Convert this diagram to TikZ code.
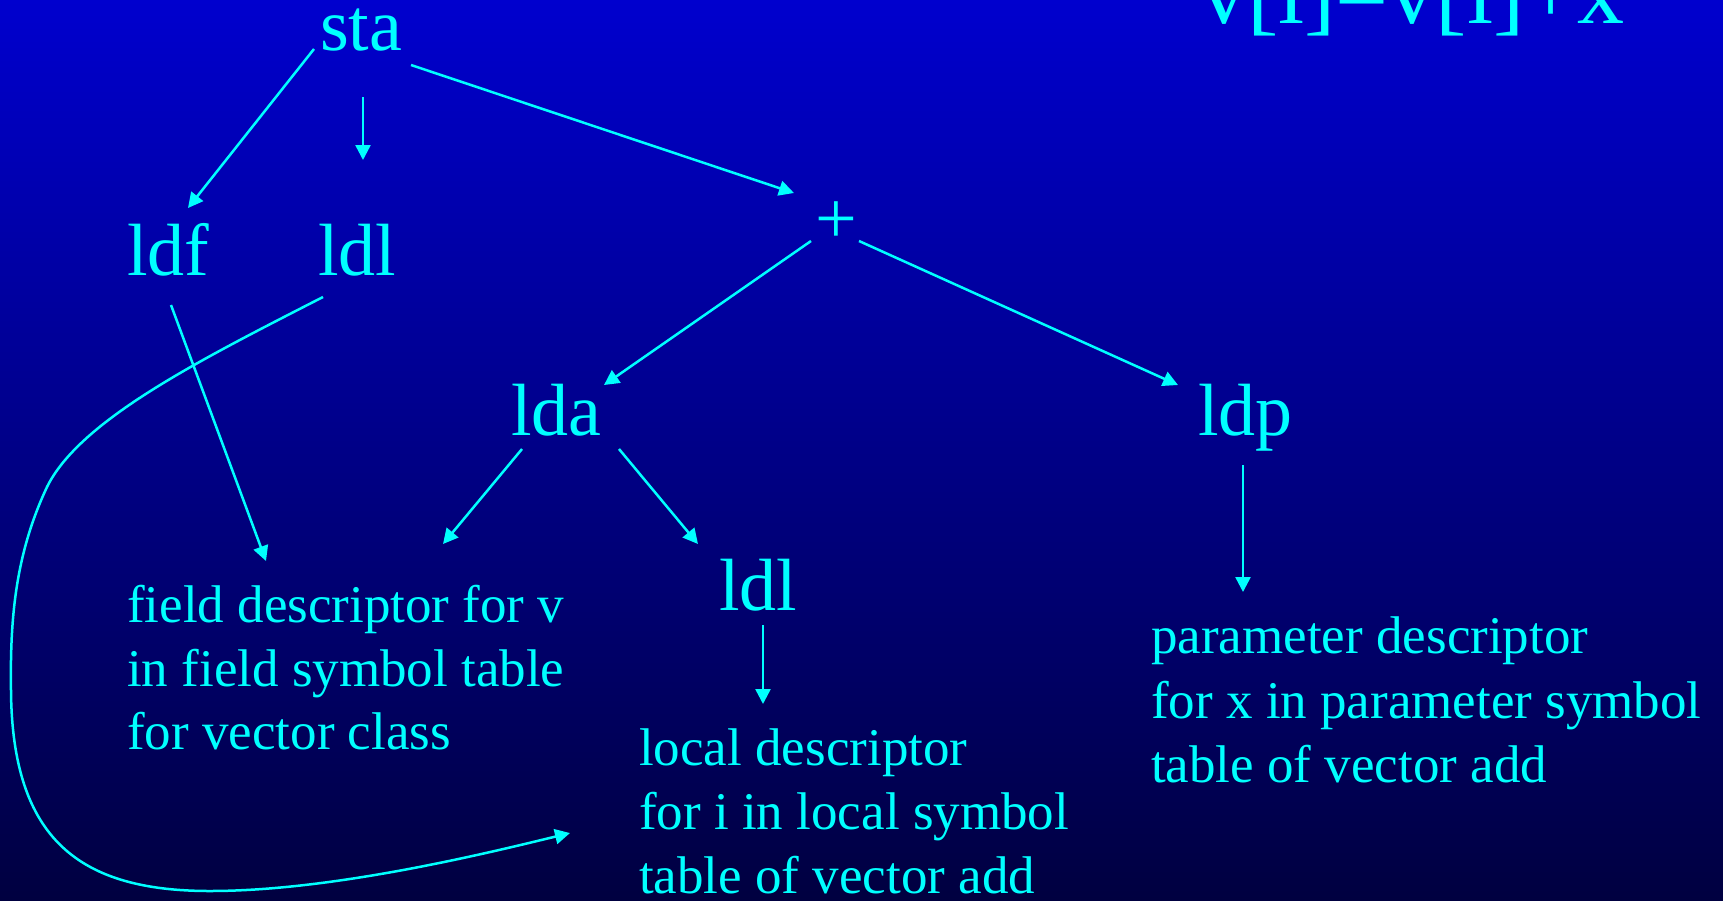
\documentclass[tikz,border=0pt]{standalone}
\usepackage{fontspec}
\setmainfont{Liberation Serif}
\usetikzlibrary{arrows.meta}
\definecolor{fg}{RGB}{0,255,255}
\definecolor{bgtop}{RGB}{0,0,206}
\definecolor{bgbot}{RGB}{0,0,64}
\tikzset{
  lbl/.style={text=fg, inner sep=0pt, anchor=base west, font=\fontsize{74}{88}\selectfont},
  desc/.style={text=fg, inner sep=0pt, anchor=base west, font=\fontsize{53}{64}\selectfont},
  ttl/.style={text=fg, inner sep=0pt, anchor=base west, font=\fontsize{94}{110}\selectfont},
  conn/.style={draw=fg, line width=2.5pt, -{Triangle[length=15pt,width=15pt]}},
}
\begin{document}
\begin{tikzpicture}[x=1pt,y=-1pt]
\useasboundingbox (0,0) rectangle (1723,900);
\shade[top color=bgtop, bottom color=bgbot] (0,0) rectangle (1723,900);

% title
\node[ttl] (title) at (1200,23) {v[i]=v[i]+x};

% tree labels
\node[lbl] (sta) at (320,50) {sta};
\node[lbl] (ldf) at (127,275) {ldf};
\node[lbl] (ldlA) at (318,275) {ldl};
\node[lbl, anchor=base] (plus) at (836,243) {+};
\node[lbl] (lda) at (511,435) {lda};
\node[lbl] (ldp) at (1198,435) {ldp};
\node[lbl] (ldlB) at (719,610) {ldl};

% descriptors
\node[desc] (field1) at (127,622) {field descriptor for v};
\node[desc] (field2) at (127,686) {in field symbol table};
\node[desc] (field3) at (127,749) {for vector class};

\node[desc] (local1) at (639,765) {local descriptor};
\node[desc] (local2) at (639,829) {for i in local symbol};
\node[desc] (local3) at (639,893) {table of vector add};

\node[desc] (param1) at (1151,653) {parameter descriptor};
\node[desc] (param2) at (1151,718) {for x in parameter symbol};
\node[desc] (param3) at (1151,782) {table of vector add};

% connector end points
\coordinate (staL) at (314,49);   \coordinate (ldfT) at (188,208);
\coordinate (staB) at (363,97);   \coordinate (ldlAT) at (363,160);
\coordinate (staR) at (411,65);   \coordinate (plusT) at (794,193);
\coordinate (plusL) at (811,241); \coordinate (ldaT) at (604,385);
\coordinate (plusR) at (859,241); \coordinate (ldpT) at (1178,385);
\coordinate (ldfB) at (171,305);  \coordinate (fieldT) at (266,561);
\coordinate (ldaL) at (522,449);  \coordinate (fieldTR) at (443,544);
\coordinate (ldaR) at (619,449);  \coordinate (ldlBT) at (698,544);
\coordinate (ldlBB) at (763,625); \coordinate (localT) at (763,704);
\coordinate (ldpB) at (1243,465); \coordinate (paramT) at (1243,592);
\coordinate (ldlAB) at (323,297); \coordinate (localL) at (570,833);

\draw[conn] (staL) -- (ldfT);
\draw[conn] (staB) -- (ldlAT);
\draw[conn] (staR) -- (plusT);
\draw[conn] (plusL) -- (ldaT);
\draw[conn] (plusR) -- (ldpT);
\draw[conn] (ldfB) -- (fieldT);
\draw[conn] (ldaL) -- (fieldTR);
\draw[conn] (ldaR) -- (ldlBT);
\draw[conn] (ldlBB) -- (localT);
\draw[conn] (ldpB) -- (paramT);
\draw[conn] (ldlAB) .. controls (200,360) and (80,420) .. (47,487)
  .. controls (15,555) and (10,620) .. (11,690)
  .. controls (12,840) and (80,891) .. (210,891)
  .. controls (330,891) and (480,855) .. (localL);
\end{tikzpicture}
\end{document}
